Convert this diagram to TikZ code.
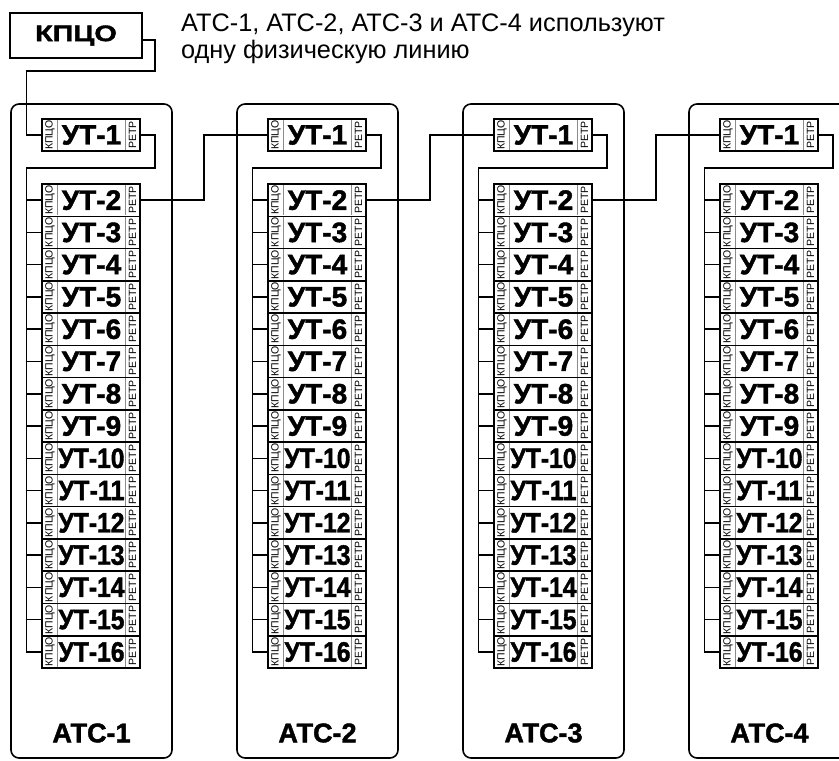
\documentclass[tikz,border=0pt]{standalone}
\usepackage{fontspec}
\setmainfont{Liberation Sans}
\newfontfamily\heavyfont[FakeBold=1.6]{Liberation Sans Bold}
\usepackage{graphicx}
\tikzset{
  atcbox/.style={draw, line width=1.6pt, rounded corners=8pt},
  utbox/.style={draw, line width=1.5pt, fill=white, minimum width=98pt, minimum height=32.27pt, inner sep=0pt, outer sep=0pt},
  divline/.style={draw=black!45, line width=0.6pt, shorten >=0.8pt, shorten <=0.8pt},
  wire/.style={draw, line width=1.5pt},
  utlabel/.style={font=\fontsize{28}{28}\selectfont\heavyfont, inner sep=0pt},
  sidelabel/.style={font=\fontsize{10.5}{10.5}\selectfont, rotate=90, inner sep=0pt},
  atclabel/.style={font=\fontsize{27}{27}\selectfont\heavyfont, inner sep=0pt},
  kpcobox/.style={draw, line width=1.3pt, minimum width=132pt, minimum height=45pt, inner sep=0pt, outer sep=0pt, font=\fontsize{22.5}{22.5}\selectfont\heavyfont},
  titletext/.style={font=\fontsize{25.3}{25.3}\selectfont, inner sep=0pt}
}
\begin{document}
\begin{tikzpicture}[x=1pt,y=-1pt]
\useasboundingbox (0,0) rectangle (839,761);
\node[kpcobox] (kpco) at (76,35.5) {\scalebox{1.28}[1]{КПЦО}};
\node[titletext, anchor=base west] (t1) at (181,31.5) {АТС-1, АТС-2, АТС-3 и АТС-4 используют};
\node[titletext, anchor=base west] (t2) at (181,58) {одну физическую линию};
\foreach \k in {0,...,3}{
  \pgfmathsetmacro\dx{226*\k}
  \pgfmathtruncatemacro\kk{\k+1}
  \draw[atcbox] (11+\dx,104) rectangle (172+\dx,758);
  \node[atclabel] (atc\k) at (91.5+\dx,733) {АТС-\kk};
  \node[utbox] (b\k-u1) at (91+\dx,135) {};
  \foreach \n in {2,...,16}{
    \pgfmathsetmacro\yy{184+(\n-1.5)*32.27}
    \node[utbox] (b\k-u\n) at (91+\dx,\yy) {};
  }
  \foreach \n in {1,...,16}{
    \draw[divline] ([xshift=15.5pt]b\k-u\n.north west) -- ([xshift=15.5pt]b\k-u\n.south west);
    \draw[divline] ([xshift=-14.5pt]b\k-u\n.north east) -- ([xshift=-14.5pt]b\k-u\n.south east);
    \node[sidelabel] (b\k-l\n) at ([xshift=7.9pt]b\k-u\n.west) {КПЦО};
    \node[sidelabel] (b\k-r\n) at ([xshift=-7.4pt]b\k-u\n.east) {РЕТР};
    \node[utlabel] (b\k-t\n) at ([xshift=0.5pt]b\k-u\n.center) {\ifnum\n>9 \resizebox{66pt}{\height}{УТ-\n}\else УТ-\n\fi};
  }
  \coordinate (b\k-bt) at (26.5+\dx,168);
  \draw[wire] (b\k-u1.east) -- ++(15,0) |- (b\k-bt) |- (b\k-u16.west);
  \foreach \n in {2,...,15}{
    \draw[wire] (b\k-bt |- b\k-u\n.west) -- (b\k-u\n.west);
  }
}
\foreach \k in {0,1,2}{
  \pgfmathsetmacro\dx{226*\k}
  \pgfmathtruncatemacro\kn{\k+1}
  \coordinate (j\k) at (204+\dx,135);
  \draw[wire] (b\k-u2.east) -| (j\k) -- (b\kn-u1.west);
}
\coordinate (kp1) at (155,71);
\coordinate (kp2) at (26.5,71);
\draw[wire] ([yshift=-4.5pt]kpco.east) -| (kp1) -- (kp2) |- (b0-u1.west);
\end{tikzpicture}
\end{document}
